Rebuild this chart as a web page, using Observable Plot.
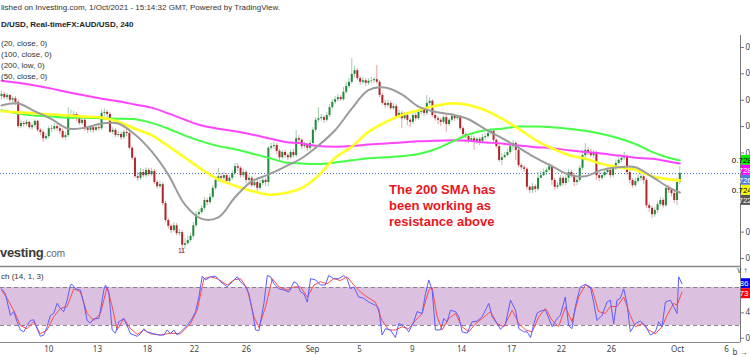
<!DOCTYPE html>
<html><head><meta charset="utf-8">
<script src="https://cdn.jsdelivr.net/npm/d3@7"></script>
<script src="https://cdn.jsdelivr.net/npm/@observablehq/plot@0.6"></script>
<style>
body{margin:0;background:#fff;overflow:hidden}
#wrap{position:relative;width:750px;height:357px;overflow:hidden;font-family:"Liberation Sans",Arial,sans-serif;background:#fff}
.t{position:absolute;left:1px;font-size:8px;line-height:10px;color:#333;white-space:nowrap;z-index:5}
#main{position:absolute;left:0;top:35px}
#stoch{position:absolute;left:0;top:264px}
#note{position:absolute;left:389px;top:182px;font-size:13px;line-height:16px;font-weight:bold;color:#e8161d;z-index:5}
#logo{position:absolute;left:0;top:246px;font-size:13px;line-height:13px;font-weight:bold;color:#3a3a3a;z-index:5;white-space:nowrap;letter-spacing:-0.3px}
#logo span{font-weight:normal;font-size:10px;color:#666;letter-spacing:0}
</style></head><body>
<div id="wrap">
  <div id="main"></div>
  <div id="stoch"></div>
  <div class="t" style="top:3px">lished on Investing.com, 1/Oct/2021 - 15:14:32 GMT, Powered by TradingView.</div>
  <div class="t" style="top:20px;font-weight:bold;color:#222">D/USD, Real-timeFX:AUD/USD, 240</div>
  <div class="t" style="top:39px">(20, close, 0)</div>
  <div class="t" style="top:50px">(100, close, 0)</div>
  <div class="t" style="top:61px">(200, low, 0)</div>
  <div class="t" style="top:72px">(50, close, 0)</div>
  <div class="t" style="top:272px">ch (14, 1, 3)</div>
  <div class="t" style="top:246px;left:178px;font-size:7px;color:#8b1a1a">11</div>
  <div id="logo">vesting<span>.com</span></div>
  <div id="note">The 200 SMA has<br>been working as<br>resistance above</div>
</div>
<script>
// ---- AUD/USD 4h candles, prices in pips (price x 10000) ----
const firstOpen = 7407;
const close = [
7411,7405,7409,7400,7403,7396,7350,7356,7354,7358,
7348,7352,7360,7343,7339,7327,7331,7346,7345,7350,
7346,7341,7329,7333,7369,7371,7373,7365,7356,7362,
7346,7343,7348,7343,7348,7346,7375,7377,7373,7339,
7343,7333,7335,7329,7339,7337,7309,7290,7255,7252,
7263,7257,7267,7259,7265,7244,7236,7240,7204,7172,
7161,7153,7162,7147,7149,7125,7128,7134,7142,7162,
7183,7187,7195,7210,7206,7216,7233,7248,7255,7252,
7257,7246,7252,7261,7274,7271,7257,7263,7248,7252,
7238,7244,7233,7242,7248,7244,7309,7312,7314,7303,
7291,7301,7295,7291,7301,7295,7327,7324,7312,7314,
7309,7318,7343,7362,7365,7367,7362,7371,7386,7396,
7401,7405,7401,7415,7426,7434,7449,7456,7441,7434,
7437,7432,7436,7437,7439,7434,7409,7394,7390,7394,
7384,7388,7369,7375,7365,7371,7362,7358,7371,7365,
7377,7381,7375,7394,7398,7371,7365,7362,7358,7367,
7354,7362,7369,7365,7367,7346,7335,7331,7324,7327,
7320,7326,7322,7329,7331,7337,7341,7324,7312,7286,
7291,7295,7301,7312,7318,7305,7276,7272,7269,7235,
7229,7236,7231,7252,7257,7263,7267,7274,7248,7235,
7238,7252,7242,7252,7263,7257,7244,7248,7271,7295,
7305,7301,7295,7299,7257,7252,7257,7263,7267,7257,
7271,7280,7286,7290,7293,7263,7248,7238,7246,7252,
7255,7248,7200,7195,7183,7191,7202,7210,7200,7233,
7229,7223,7210,7244,7261];
const high = [
7417,7415,7413,7411,7407,7407,7400,7362,7360,7363,
7360,7356,7363,7362,7346,7343,7337,7350,7352,7356,
7354,7350,7345,7339,7386,7381,7379,7377,7369,7365,
7365,7350,7352,7352,7352,7354,7381,7384,7381,7377,
7348,7346,7341,7339,7343,7345,7341,7312,7293,7263,
7271,7269,7272,7271,7271,7269,7248,7246,7244,7208,
7176,7164,7168,7166,7155,7153,7138,7142,7147,7168,
7189,7193,7200,7216,7214,7223,7238,7253,7271,7261,
7263,7261,7257,7267,7280,7280,7274,7269,7267,7257,
7255,7250,7248,7248,7253,7252,7312,7318,7320,7318,
7307,7305,7305,7299,7305,7307,7343,7333,7327,7320,
7318,7324,7348,7367,7386,7373,7371,7377,7392,7401,
7407,7411,7409,7424,7434,7441,7479,7464,7460,7445,
7443,7441,7441,7443,7443,7466,7437,7413,7400,7400,
7398,7394,7392,7381,7379,7377,7375,7365,7377,7375,
7382,7386,7384,7409,7405,7401,7375,7369,7365,7371,
7371,7365,7375,7373,7371,7371,7350,7339,7335,7333,
7331,7329,7329,7335,7337,7343,7346,7345,7327,7316,
7299,7301,7307,7318,7324,7322,7309,7280,7276,7272,
7238,7242,7240,7263,7265,7269,7272,7280,7278,7252,
7244,7257,7255,7257,7269,7267,7261,7253,7276,7305,
7318,7310,7307,7305,7303,7263,7263,7269,7272,7271,
7276,7286,7291,7295,7301,7297,7267,7252,7252,7257,
7261,7259,7252,7204,7199,7197,7208,7216,7214,7238,
7238,7233,7227,7252,7274];
const low = [
7401,7401,7400,7396,7394,7390,7346,7346,7348,7350,
7345,7343,7348,7339,7333,7320,7324,7327,7339,7341,
7341,7335,7326,7324,7329,7365,7367,7360,7352,7352,
7341,7337,7339,7337,7341,7343,7343,7369,7367,7337,
7335,7329,7329,7324,7326,7331,7305,7286,7252,7246,
7248,7253,7253,7255,7255,7240,7231,7233,7200,7168,
7155,7147,7149,7143,7142,7109,7117,7125,7130,7138,
7159,7180,7183,7191,7200,7202,7212,7229,7244,7246,
7248,7242,7242,7248,7257,7265,7252,7253,7242,7244,
7235,7235,7225,7229,7238,7236,7236,7305,7307,7297,
7286,7288,7290,7286,7288,7290,7291,7318,7307,7309,
7303,7305,7314,7339,7358,7360,7356,7358,7367,7382,
7392,7396,7398,7398,7411,7422,7430,7443,7437,7428,
7430,7426,7428,7432,7432,7430,7405,7390,7384,7386,
7381,7381,7365,7365,7346,7362,7352,7348,7354,7360,
7362,7373,7369,7371,7390,7367,7360,7354,7350,7354,
7339,7350,7358,7360,7362,7343,7329,7326,7318,7320,
7305,7316,7314,7318,7324,7327,7333,7318,7309,7282,
7276,7290,7293,7297,7305,7286,7272,7267,7263,7229,
7223,7223,7225,7227,7252,7255,7257,7263,7238,7229,
7231,7235,7236,7238,7244,7252,7236,7238,7244,7267,
7290,7295,7291,7290,7248,7246,7248,7253,7259,7252,
7253,7267,7276,7282,7286,7257,7242,7233,7235,7242,
7246,7240,7195,7187,7176,7178,7185,7199,7195,7197,
7223,7217,7204,7200,7240];
const lastPrice = 7261;

// ---- moving averages (pips), read every 6 bars ----
const maBars = [0,6,12,18,24,30,36,42,48,54,60,66,72,78,84,90,96,102,108,114,120,126,132,138,144,150,156,162,168,174,180,186,192,198,204,210,216,222,228,234,240,244];
const sma20 = [7390,7394,7379,7364,7346,7348,7356,7356,7335,7303,7259,7202,7175,7178,7216,7246,7259,7274,7290,7314,7343,7384,7419,7424,7411,7388,7378,7373,7364,7345,7328,7310,7291,7275,7259,7256,7268,7273,7273,7255,7235,7225];
const sma50 = [7379,7377,7375,7373,7371,7369,7367,7359,7346,7334,7313,7291,7269,7250,7238,7228,7221,7224,7234,7257,7291,7312,7340,7358,7372,7381,7389,7394,7391,7381,7365,7346,7325,7309,7296,7289,7279,7273,7268,7256,7250,7248];
const sma100 = [7381,7375,7371,7369,7367,7367,7366,7365,7364,7357,7346,7333,7322,7313,7307,7299,7291,7282,7280,7279,7282,7286,7290,7292,7294,7298,7307,7321,7335,7343,7346,7350,7350,7349,7346,7342,7336,7328,7317,7302,7291,7286];
const sma200low = [7437,7433,7428,7422,7415,7409,7403,7398,7392,7386,7375,7363,7352,7346,7341,7335,7328,7321,7318,7313,7312,7313,7316,7318,7320,7322,7323,7324,7323,7320,7318,7314,7311,7309,7305,7302,7299,7295,7291,7289,7284,7280];

// ---- stochastic (14,1,3) ----
const kBars = [0,1.4,3.2,4.4,5.6,6.8,8,9.2,10.4,11.6,12.8,14,15.2,16.4,17.6,18.8,20,21.2,22.4,23.6,24.8,25.4,26.6,28.4,29.6,30.8,32,33.2,35,35.6,36.8,37.4,38.6,39.8,41,42.2,44,45.2,46.4,47.6,48.8,50,51.2,52.4,54.8,56.6,58.4,59.6,60.8,62,63.2,64.4,66.8,68.6,69.8,71,72.2,73.4,75.2,77,78.8,81.2,83,84.8,86,87.8,89,90.2,91.4,92.6,94.4,95.6,96.8,98,99.8,101.6,103.4,105.2,106.4,107.6,108.8,110,111.2,113,114.7,116.5,117.7,119.5,121.3,123.1,124.3,125.5,126.7,128.5,130.3,132.1,134.5,135.7,136.9,138.1,139.9,141.7,142.9,144.7,146.5,148.3,149.5,151.3,152.5,153.7,154.9,156.1,157.9,159.1,160.3,161.5,163.3,164.5,165.7,167.5,169.3,171.1,172.9,175.3,176.5,178.3,179.5,181.3,183.1,184.9,186.1,187.9,189.1,190.3,191.5,192.7,194.5,195.7,196.9,198.1,199.8,201,202.8,204,205.2,206.4,208.2,210,211.8,213,214.2,216,217.8,219,220.2,221.4,222.6,223.8,225,226.2,228,229.8,231.6,233.4,235.2,236.4,237.6,238.8,240.6,241.8,243,243.6,244.8];
const kVals = [78,70,36,42,26,13,10,20,28,29,15,3,5,18,36,39,55,47,42,60,84,85,78,76,55,28,24,31,31,44,76,84,73,13,8,26,31,20,7,5,3,7,15,10,7,5,5,13,7,13,5,10,20,31,42,65,98,92,97,98,89,81,89,97,89,81,70,44,13,12,55,99,97,86,78,76,73,89,86,73,70,57,94,92,84,84,99,94,94,99,94,78,81,65,63,57,52,47,5,15,13,1,23,20,10,26,42,39,70,92,76,13,13,31,26,44,42,34,10,8,26,27,34,55,34,23,14,23,60,44,15,10,10,1,23,40,44,44,31,18,31,36,65,20,15,50,81,85,81,57,28,36,57,60,23,60,63,78,55,10,23,27,20,5,10,26,18,57,60,50,39,97,86];
const dBars = [0,2,4.4,6.8,9.2,11.6,14,16.4,18.8,21.2,23.6,26,28.4,30.8,33.2,35.6,38,39.8,41.6,44,46.4,48.8,51.2,53.6,57.2,60.8,64.4,68,70.4,72.8,75.2,77.6,81.2,83.6,86,88.4,90.8,92.6,95,97.4,99.8,102.8,105.2,107.6,110,112.4,114.7,117.1,119.5,121.9,124.3,126.7,129.1,131.5,134.5,136.9,139.3,141.7,144.1,146.5,148.9,151.3,153.7,154.9,156.7,158.5,160.9,163.3,165.7,168.1,170.5,172.9,175.9,178.3,180.7,183.7,186.1,188.5,190.9,193.3,195.7,198.1,200.4,202.8,205.2,207.6,210,212.4,214.8,217.2,219,221.4,223.8,226.2,228,230.4,232.8,235.2,237.6,239.4,241.8,243,244.8];
const dVals = [76,63,44,20,15,26,7,13,34,47,50,78,73,39,28,39,81,50,13,31,15,6,13,7,5,8,7,23,44,94,97,94,84,92,94,78,34,17,50,94,81,76,81,81,65,84,89,86,94,91,97,84,73,65,57,28,13,13,18,15,28,39,76,80,34,13,31,39,18,10,23,31,42,23,18,44,23,13,10,34,47,28,18,49,26,65,84,78,42,39,50,50,65,36,18,23,13,7,18,36,55,52,73];
const stochLevels = [20, 80];
const lastK = 86, lastD = 73;

// ---- axes ----
const priceTicks = [7100,7150,7300,7350,7400,7450,7500];
const stochTicks = [0, 40];
const dateTickBars = [17,34.5,52.5,69.4,88.1,111.9,128.8,147.8,165.5,183.5,201.4,219.4,243.2,260.8];
const dateTickLabels = ["10","13","18","22","26","Sep","5","9","14","17","22","26","Oct","6"];

// ---- build ----
const up = "#23883a", down = "#b0252a";
const n = Math.min(close.length, high.length, low.length);
const open = [firstOpen, ...close.slice(0, n - 1)]; // each 4h bar opens at the prior close
const bars = d3.range(n).map(i => ({i, o: open[i], h: high[i], l: low[i], c: close[i]}));
const ups = bars.filter(d => d.c >= d.o), downs = bars.filter(d => d.c < d.o);
const ma = (vals) => maBars.map((b, k) => ({b, v: vals[k]}));
const xDomain = [-0.36, 265.83];

function sideLabels(items) {
  return (index, scales, values, dim) => {
    const g = d3.create("svg:g");
    const x0 = dim.width - dim.marginRight + 1;
    let prev = -Infinity;
    items.map(d => ({...d, y: scales.y(d.v)})).sort((a, b) => a.y - b.y).forEach(d => {
      const y = Math.max(d.y, prev + 10); prev = y;
      g.append("rect").attr("x", x0).attr("y", y - 5).attr("width", 30).attr("height", 10).attr("fill", d.bg);
      g.append("text").attr("x", x0 + 3).attr("y", y).attr("dy", "0.35em").attr("fill", d.fg)
        .attr("font-size", 8).attr("font-family", "Liberation Sans, Arial, sans-serif").text(d.text);
    });
    return g.node();
  };
}
const fmtP = d => "0." + d;

const mainPlot = Plot.plot({
  width: 750, height: 231, marginTop: 0, marginBottom: 0, marginLeft: 0, marginRight: 10,
  style: {background: "transparent", overflow: "visible"},
  x: {domain: xDomain, axis: null},
  y: {domain: [7084.8, 7522.7], axis: null},
  marks: [
    Plot.ruleY([lastPrice], {stroke: "#3b6fd8", strokeWidth: 1, strokeDasharray: "1,2"}),
    Plot.ruleX(ups, {x: "i", y1: "l", y2: "h", stroke: up, strokeOpacity: 0.42, strokeWidth: 1}),
    Plot.ruleX(downs, {x: "i", y1: "l", y2: "h", stroke: down, strokeOpacity: 0.42, strokeWidth: 1}),
    Plot.ruleX(ups, {x: "i", y1: "o", y2: "c", stroke: up, strokeWidth: 2}),
    Plot.ruleX(downs, {x: "i", y1: "o", y2: "c", stroke: down, strokeWidth: 2}),
    Plot.line(ma(sma200low), {x: "b", y: "v", stroke: "#ff44ff", strokeWidth: 2, curve: "catmull-rom"}),
    Plot.line(ma(sma100), {x: "b", y: "v", stroke: "#44ff44", strokeWidth: 2, curve: "catmull-rom"}),
    Plot.line(ma(sma50), {x: "b", y: "v", stroke: "#ffff22", strokeWidth: 2.6, curve: "catmull-rom"}),
    Plot.line(ma(sma20), {x: "b", y: "v", stroke: "#9b9b9b", strokeWidth: 2, curve: "catmull-rom"}),
    Plot.ruleX([xDomain[1]], {stroke: "#777"}),
    Plot.axisY({anchor: "right", ticks: priceTicks, tickFormat: fmtP, tickSize: 3, tickPadding: 2,
      fontSize: 8, stroke: "#777", fill: "#444"}),
    sideLabels([
      {v: sma100.at(-1), bg: "#00ee00", fg: "#000", text: fmtP(sma100.at(-1))},
      {v: sma200low.at(-1), bg: "#ff00ff", fg: "#fff", text: fmtP(sma200low.at(-1))},
      {v: lastPrice, bg: "#4a7fdc", fg: "#fff", text: fmtP(lastPrice)},
      {v: sma50.at(-1), bg: "#ffff00", fg: "#000", text: fmtP(sma50.at(-1))},
      {v: sma20.at(-1), bg: "#555", fg: "#fff", text: fmtP(sma20.at(-1))}
    ])
  ]
});
document.getElementById("main").append(mainPlot);

const labelOf = new Map(dateTickBars.map((b, k) => [b, dateTickLabels[k]]));
const yS = [-6.8, 113.2];
const stochPlot = Plot.plot({
  width: 750, height: 93, marginTop: 2, marginBottom: 15, marginLeft: 0, marginRight: 10,
  style: {background: "transparent", overflow: "visible"},
  x: {domain: xDomain, axis: null},
  y: {domain: yS, axis: null},
  marks: [
    Plot.rect([stochLevels], {x1: xDomain[0], x2: xDomain[1], y1: d => d[0], y2: d => d[1], fill: "#dcc0e0"}),
    Plot.ruleY(stochLevels, {stroke: "#8e7f90", strokeDasharray: "4,3"}),
    Plot.line(dBars.map((b, k) => ({b, v: dVals[k]})), {x: "b", y: "v", stroke: "#ff4a4a", strokeWidth: 1}),
    Plot.line(kBars.map((b, k) => ({b, v: kVals[k]})), {x: "b", y: "v", stroke: "#5c5cff", strokeWidth: 1}),
    Plot.ruleY([yS[1]], {stroke: "#888", strokeWidth: 1.5}),
    Plot.ruleY([yS[0]], {stroke: "#888", strokeWidth: 1.2}),
    Plot.ruleX([xDomain[1]], {stroke: "#777"}),
    Plot.axisY({anchor: "right", ticks: stochTicks, tickFormat: d => d.toFixed(2), tickSize: 3, tickPadding: 2,
      fontSize: 8, stroke: "#777", fill: "#444"}),
    Plot.axisX({anchor: "bottom", ticks: dateTickBars, tickFormat: d => labelOf.get(d), tickSize: 0, tickPadding: 4,
      fontSize: 8, fill: "#444"}),
    sideLabels([
      {v: lastK, bg: "#0000ff", fg: "#fff", text: String(lastK)},
      {v: lastD, bg: "#ff0000", fg: "#fff", text: String(lastD)}
    ])
  ]
});
document.getElementById("stoch").append(stochPlot);
</script>
</body></html>
